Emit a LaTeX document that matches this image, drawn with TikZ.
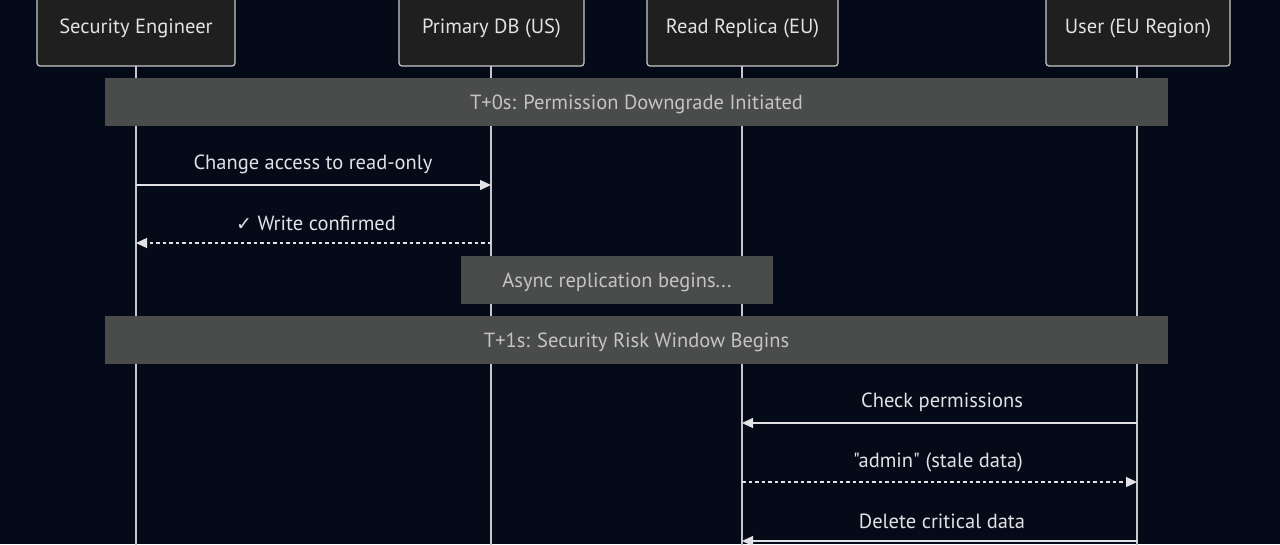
\documentclass[tikz,border=0pt]{standalone}
\usepackage{fontspec}
\setmainfont{PT Sans}[Ligatures=TeXOff]
\usetikzlibrary{arrows.meta}
\definecolor{bg}{HTML}{050A18}
\definecolor{actfill}{HTML}{1F1F1F}
\definecolor{actline}{HTML}{C8C8CC}
\definecolor{notefill}{HTML}{4A4B4B}
\definecolor{notetext}{HTML}{C4C4C4}
\definecolor{txt}{HTML}{E2E2E6}
\definecolor{lifeline}{HTML}{C8C8CC}
\tikzset{
  actor/.style={draw=actline, fill=actfill, line width=1.2pt, rounded corners=3pt,
    minimum height=80pt, inner sep=0pt, text=txt, font=\fontsize{20.5}{24}\selectfont},
  life/.style={draw=lifeline, line width=1.3pt},
  notebar/.style={fill=notefill, draw=none, minimum height=48pt, inner sep=0pt,
    text=notetext, font=\fontsize{20.5}{24}\selectfont},
  msg/.style={draw=txt, line width=1.3pt, -{Triangle[length=11pt,width=10pt]}},
  rmsg/.style={msg, dash pattern=on 3.5pt off 3pt},
  lbl/.style={text=txt, font=\fontsize{20.5}{24}\selectfont, inner sep=0pt}
}
\newcommand{\dn}[1]{\raisebox{-2pt}[\height][\depth]{#1}}
\begin{document}
\begin{tikzpicture}[x=1pt,y=-1pt]
\fill[bg] (0,0) rectangle (1280,544);
\useasboundingbox (0,0) rectangle (1280,544);
\begin{scope}
\clip (0,0) rectangle (1280,544);
% actors
\node[actor, minimum width=198pt] (se) at (136,26) {\dn{Security Engineer}};
\node[actor, minimum width=185pt] (pd) at (491.5,26) {\dn{Primary DB (US)}};
\node[actor, minimum width=191pt] (rr) at (742.5,26) {\dn{Read Replica (EU)}};
\node[actor, minimum width=184pt] (us) at (1138,26) {\dn{User (EU Region)}};
% lifeline ends
\coordinate (seb) at (136,550);
\coordinate (pdb) at (491,550);
\coordinate (rrb) at (742,550);
\coordinate (usb) at (1137,550);
\draw[life] (136,66) -- (seb);
\draw[life] (491,66) -- (pdb);
\draw[life] (742,66) -- (rrb);
\draw[life] (1137,66) -- (usb);
% notes
\node[notebar, minimum width=1063pt] (n1) at (636.5,102) {\dn{T+0s: Permission Downgrade Initiated}};
\node[notebar, minimum width=312pt] (n2) at (617,280) {\dn{Async replication begins...}};
\node[notebar, minimum width=1063pt] (n3) at (636.5,340) {\dn{T+1s: Security Risk Window Begins}};
% message coordinates
\coordinate (m1a) at (136,185); \coordinate (m1b) at (491,185);
\coordinate (m2a) at (491,243); \coordinate (m2b) at (136,243);
\coordinate (m3a) at (1137,423); \coordinate (m3b) at (742,423);
\coordinate (m4a) at (742,482); \coordinate (m4b) at (1137,482);
\coordinate (m5a) at (1137,541); \coordinate (m5b) at (742,541);
\draw[msg] (m1a) -- (m1b);
\node[lbl] (l1) at (313,164) {Change access to read-only};
\draw[rmsg] (m2a) -- (m2b);
\node[lbl] (l2) at (316,223) {{\fontspec{DejaVu Sans}\fontsize{19}{20}\selectfont ✓} Write confirmed};
\draw[msg] (m3a) -- (m3b);
\node[lbl] (l3) at (942,402) {Check permissions};
\draw[rmsg] (m4a) -- (m4b);
\node[lbl] (l4) at (938,462) {"admin" (stale data)};
\draw[msg] (m5a) -- (m5b);
\node[lbl] (l5) at (942,521) {Delete critical data};
\end{scope}
\end{tikzpicture}
\end{document}
